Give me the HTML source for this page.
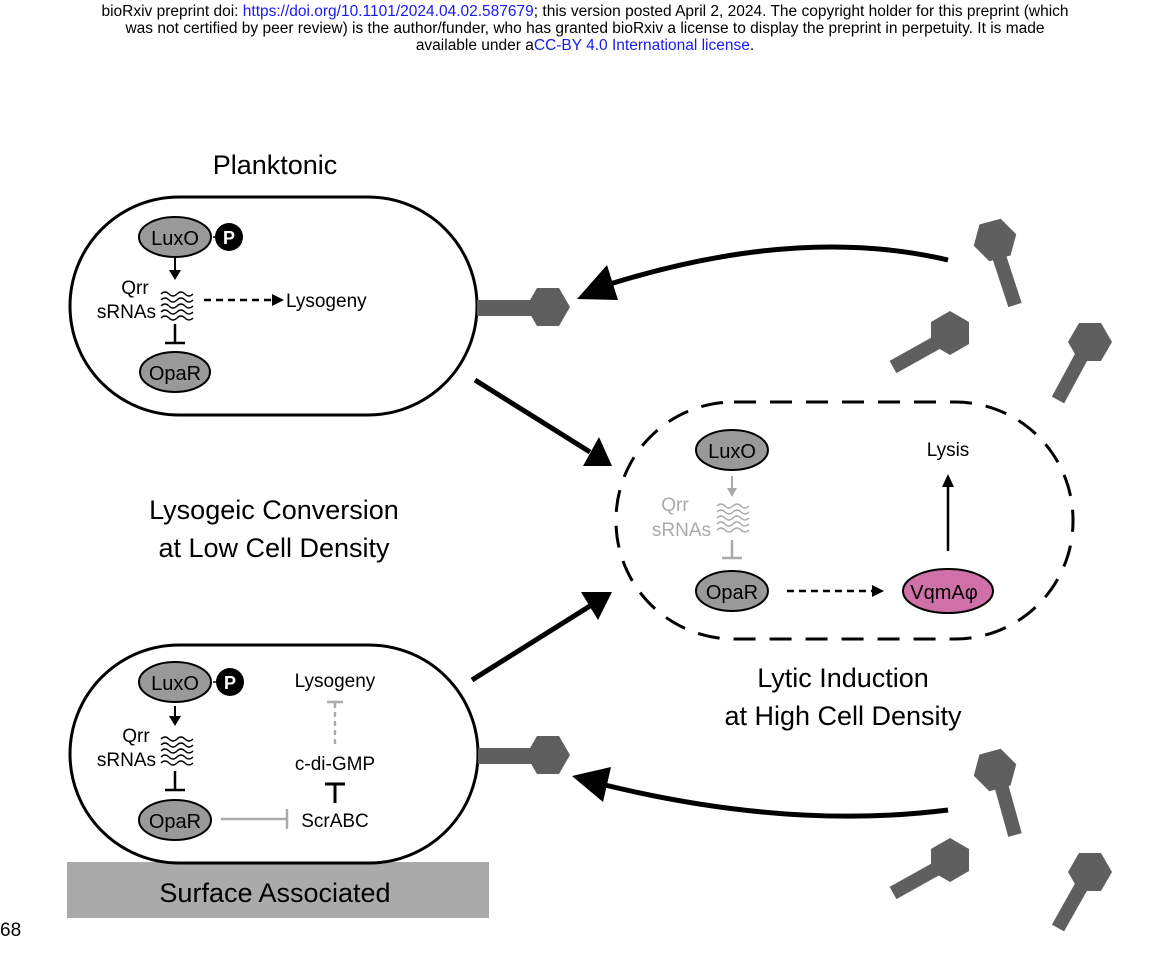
<!DOCTYPE html>
<html><head><meta charset="utf-8"><style>
body{margin:0;width:1170px;height:955px;background:#fff;overflow:hidden;font-family:"Liberation Sans",sans-serif}
.hdr{position:absolute;top:3px;left:0;width:1170px;text-align:center;font-size:15.5px;line-height:17px;color:#000}
.hdr a{color:#1a1aee;text-decoration:none}
</style></head><body>
<div class="hdr">bioRxiv preprint doi: <a>https://doi.org/10.1101/2024.04.02.587679</a>; this version posted April 2, 2024. The copyright holder for this preprint (which<br>was not certified by peer review) is the author/funder, who has granted bioRxiv a license to display the preprint in perpetuity. It is made<br>available under a<a>CC-BY 4.0 International license</a>.</div>
<svg width="1170" height="955" style="position:absolute;left:0;top:0" font-family="Liberation Sans, sans-serif">
<defs>
<g id="waves" fill="none" stroke-width="1.3">
<path d="M0,0 q4,-4 8,0 t8,0 t8,0 t8,0"/>
<path d="M0,6 q4,-4 8,0 t8,0 t8,0 t8,0"/>
<path d="M0,12 q4,-4 8,0 t8,0 t8,0 t8,0"/>
<path d="M0,18 q4,-4 8,0 t8,0 t8,0 t8,0"/>
<path d="M0,24 q4,-4 8,0 t8,0 t8,0 t8,0"/>
</g>
<polygon id="hex" points="-22,0 -11,-19 11,-19 22,0 11,19 -11,19" fill="#5f5f5f"/>
</defs>
<text x="275" y="174" font-size="27" text-anchor="middle">Planktonic</text>
<text x="274" y="519" font-size="27" text-anchor="middle">Lysogeic Conversion</text>
<text x="274" y="557" font-size="27" text-anchor="middle">at Low Cell Density</text>
<text x="843" y="687" font-size="27" text-anchor="middle">Lytic Induction</text>
<text x="843" y="725" font-size="27" text-anchor="middle">at High Cell Density</text>
<text x="0" y="936" font-size="19">68</text>

<!-- top cell -->
<rect x="70" y="197" width="407" height="218" rx="109" fill="#fff" stroke="#000" stroke-width="3"/>
<line x1="477" y1="308" x2="535" y2="308" stroke="#5f5f5f" stroke-width="16"/>
<use href="#hex" x="548" y="307"/>
<line x1="213" y1="237" x2="222" y2="237" stroke="#000" stroke-width="1.5"/>
<ellipse cx="175" cy="237" rx="36" ry="20" fill="#999" stroke="#000" stroke-width="2"/>
<text x="175" y="245" font-size="20" text-anchor="middle">LuxO</text>
<circle cx="229" cy="237" r="14" fill="#000"/>
<text x="229" y="244" font-size="18" fill="#fff" text-anchor="middle" font-weight="bold">P</text>
<line x1="175" y1="258" x2="175" y2="272" stroke="#000" stroke-width="2"/>
<polygon points="169,270 181,270 175,280" fill="#000"/>
<use href="#waves" x="161" y="294" stroke="#000"/>
<text x="135" y="294" font-size="19" text-anchor="middle">Qrr</text>
<text x="156" y="318" font-size="19" text-anchor="end">sRNAs</text>
<line x1="175" y1="324" x2="175" y2="343" stroke="#000" stroke-width="2.5"/>
<line x1="165" y1="343" x2="185" y2="343" stroke="#000" stroke-width="2.5"/>
<ellipse cx="175" cy="372" rx="35" ry="20" fill="#999" stroke="#000" stroke-width="2"/>
<text x="175" y="380" font-size="20" text-anchor="middle">OpaR</text>
<line x1="204" y1="300" x2="272" y2="300" stroke="#000" stroke-width="2.5" stroke-dasharray="7 5"/>
<polygon points="272,294 284,300 272,306" fill="#000"/>
<text x="286" y="307" font-size="19">Lysogeny</text>

<!-- arrows -->
<path d="M948,260 Q800,225 610,284" fill="none" stroke="#000" stroke-width="5"/>
<polygon points="577,299 607,265 618,300" fill="#000"/>
<line x1="475" y1="380" x2="590" y2="452" stroke="#000" stroke-width="5"/>
<polygon points="612,466 583,466 599,437" fill="#000"/>
<line x1="472" y1="680" x2="590" y2="606" stroke="#000" stroke-width="5"/>
<polygon points="612,592 581,592 598,620" fill="#000"/>
<path d="M948,810 Q790,830 605,785" fill="none" stroke="#000" stroke-width="5"/>
<polygon points="572,776 611,767 603,802" fill="#000"/>

<!-- middle cell -->
<rect x="616" y="402" width="457" height="237" rx="118" fill="none" stroke="#000" stroke-width="3" stroke-dasharray="22 14"/>
<ellipse cx="732" cy="450" rx="36" ry="20" fill="#999" stroke="#000" stroke-width="2"/>
<text x="732" y="458" font-size="20" text-anchor="middle">LuxO</text>
<line x1="732" y1="476" x2="732" y2="490" stroke="#aaa" stroke-width="2"/>
<polygon points="727,488 737,488 732,497" fill="#aaa"/>
<use href="#waves" x="717" y="506" stroke="#aaa"/>
<text x="675" y="511" font-size="19" fill="#aaa" text-anchor="middle">Qrr</text>
<text x="711" y="536" font-size="19" fill="#aaa" text-anchor="end">sRNAs</text>
<line x1="732" y1="540" x2="732" y2="558" stroke="#aaa" stroke-width="2.5"/>
<line x1="722" y1="558" x2="742" y2="558" stroke="#aaa" stroke-width="2.5"/>
<ellipse cx="732" cy="591" rx="36" ry="20" fill="#999" stroke="#000" stroke-width="2"/>
<text x="732" y="599" font-size="20" text-anchor="middle">OpaR</text>
<line x1="787" y1="591" x2="872" y2="591" stroke="#000" stroke-width="2.5" stroke-dasharray="7 5"/>
<polygon points="872,585 884,591 872,597" fill="#000"/>
<ellipse cx="948" cy="591" rx="45" ry="22" fill="#d070a8" stroke="#000" stroke-width="2"/>
<text x="944" y="599" font-size="20" text-anchor="middle">VqmAφ</text>
<line x1="948" y1="551" x2="948" y2="485" stroke="#000" stroke-width="2.5"/>
<polygon points="942,487 954,487 948,474" fill="#000"/>
<text x="948" y="456" font-size="19" text-anchor="middle">Lysis</text>

<!-- bottom cell -->
<rect x="67" y="862" width="422" height="56" fill="#aaa"/>
<text x="275" y="902" font-size="27" text-anchor="middle">Surface Associated</text>
<rect x="70" y="645" width="408" height="218" rx="109" fill="#fff" stroke="#000" stroke-width="3"/>
<line x1="478" y1="756" x2="535" y2="756" stroke="#5f5f5f" stroke-width="16"/>
<use href="#hex" x="548" y="755"/>
<line x1="213" y1="682" x2="222" y2="682" stroke="#000" stroke-width="1.5"/>
<ellipse cx="175" cy="682" rx="36" ry="20" fill="#999" stroke="#000" stroke-width="2"/>
<text x="175" y="690" font-size="20" text-anchor="middle">LuxO</text>
<circle cx="230" cy="682" r="14" fill="#000"/>
<text x="230" y="689" font-size="18" fill="#fff" text-anchor="middle" font-weight="bold">P</text>
<line x1="175" y1="706" x2="175" y2="718" stroke="#000" stroke-width="2"/>
<polygon points="169,716 181,716 175,726" fill="#000"/>
<use href="#waves" x="161" y="739" stroke="#000"/>
<text x="136" y="742" font-size="19" text-anchor="middle">Qrr</text>
<text x="156" y="766" font-size="19" text-anchor="end">sRNAs</text>
<line x1="175" y1="771" x2="175" y2="790" stroke="#000" stroke-width="2.5"/>
<line x1="165" y1="790" x2="185" y2="790" stroke="#000" stroke-width="2.5"/>
<ellipse cx="175" cy="820" rx="36" ry="20" fill="#999" stroke="#000" stroke-width="2"/>
<text x="175" y="828" font-size="20" text-anchor="middle">OpaR</text>
<line x1="221" y1="819" x2="287" y2="819" stroke="#aaa" stroke-width="2.5"/>
<line x1="287" y1="809" x2="287" y2="829" stroke="#aaa" stroke-width="2.5"/>
<text x="335" y="827" font-size="19" text-anchor="middle">ScrABC</text>
<line x1="335" y1="784" x2="335" y2="803" stroke="#000" stroke-width="3"/>
<line x1="325" y1="784" x2="345" y2="784" stroke="#000" stroke-width="3"/>
<text x="335" y="770" font-size="19" text-anchor="middle">c-di-GMP</text>
<line x1="335" y1="744" x2="335" y2="703" stroke="#aaa" stroke-width="2.5" stroke-dasharray="5 4"/>
<line x1="327" y1="702" x2="343" y2="702" stroke="#aaa" stroke-width="2.5"/>
<text x="335" y="687" font-size="19" text-anchor="middle">Lysogeny</text>

<!-- phages -->
<g stroke="#5f5f5f" stroke-width="14">
<line x1="997" y1="250" x2="1015" y2="305"/>
<line x1="945" y1="338" x2="893" y2="367"/>
<line x1="1085" y1="350" x2="1058" y2="400"/>
<line x1="997" y1="770" x2="1015" y2="835"/>
<line x1="945" y1="864" x2="893" y2="893"/>
<line x1="1085" y1="880" x2="1058" y2="928"/>
</g>
<use href="#hex" transform="translate(995,240) rotate(-15)"/>
<use href="#hex" transform="translate(950,333) rotate(30)"/>
<use href="#hex" transform="translate(1090,342)"/>
<use href="#hex" transform="translate(995,770) rotate(-15)"/>
<use href="#hex" transform="translate(950,860) rotate(30)"/>
<use href="#hex" transform="translate(1090,872)"/>
</svg>
</body></html>
